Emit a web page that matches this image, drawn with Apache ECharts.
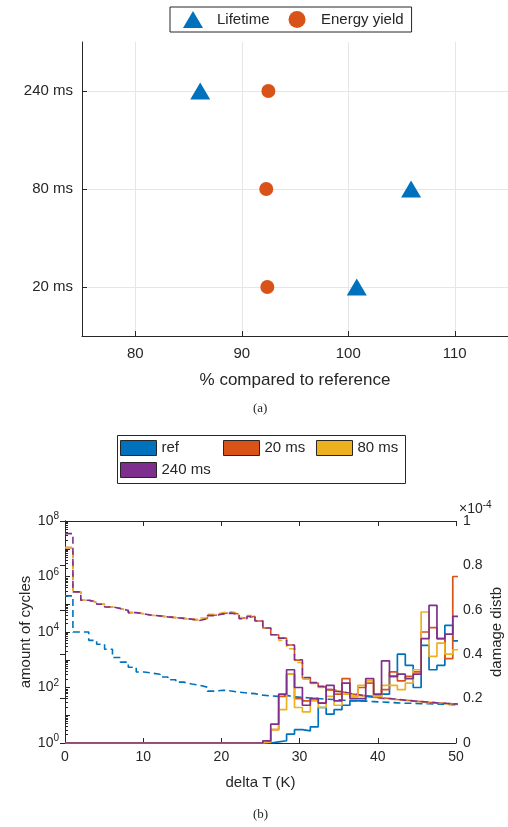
<!DOCTYPE html>
<html>
<head>
<meta charset="utf-8">
<script src="https://cdn.jsdelivr.net/npm/echarts@6/dist/echarts.min.js"></script>
<style>
  html, body { margin: 0; padding: 0; background: #fff; }
  #chart { width: 508px; height: 827px; }
</style>
</head>
<body>
<div id="chart"></div>
<script>
// (a) relative change per sampling interval
const delays = ['20 ms', '80 ms', '240 ms'];
const lifetime = [100.8, 105.9, 86.1];
const energyYield = [92.4, 92.3, 92.5];
const pctTicks = [80, 90, 100, 110];

// (b) histograms, 50 bins from 0 K
const binWidth = 1.012;
const names = ['ref', '20 ms', '80 ms', '240 ms'];
const colors = ['#0072BD', '#D95319', '#EDB120', '#7E2F8E'];

// amount of cycles (left, log)
const cyclesRef = [2e5, 1e4, 1e4, 5e3, 3.6e3, 2.4e3, 1.2e3, 820, 540, 360,
  330, 300, 240, 190, 156, 133, 120, 103, 74, 80,
  75, 68, 63, 60, 53, 50, 48, 52, 46, 44,
  42, 40, 38, 37, 35, 34, 33, 32, 31, 30,
  29, 28, 27, 27, 26, 26, 25, 25, 24, 24];
const cycles20 = [1.1e7, 2.8e5, 1.4e5, 1.2e5, 1e5, 8e4, 7e4, 6e4, 5e4, 4.5e4,
  4e4, 3.8e4, 3.5e4, 3.3e4, 3.1e4, 2.9e4, 2.7e4, 3.1e4, 4e4, 4.6e4,
  5e4, 4.4e4, 3.2e4, 3.7e4, 2.5e4, 1.4e4, 8e3, 6e3, 3.4e3, 970,
  220, 145, 105, 82, 70, 60, 55, 50, 45, 42,
  40, 37, 35, 33, 31, 29, 28, 27, 26, 25];
const cycles80 = [1.1e7, 2.8e5, 1.4e5, 1.2e5, 1e5, 8e4, 7e4, 6e4, 5e4, 4.5e4,
  4e4, 3.8e4, 3.5e4, 3.3e4, 3.1e4, 2.9e4, 2.7e4, 3.2e4, 4.3e4, 5e4,
  5.3e4, 4.7e4, 3.3e4, 3.9e4, 2.6e4, 1.4e4, 8e3, 5e3, 2.5e3, 800,
  200, 140, 100, 80, 68, 58, 52, 48, 44, 40,
  38, 36, 34, 32, 30, 28, 27, 26, 25, 24];
const cycles240 = [3.5e7, 2.8e5, 1.4e5, 1.2e5, 1e5, 8e4, 7e4, 6e4, 5e4, 4.5e4,
  4e4, 3.8e4, 3.5e4, 3.3e4, 3.1e4, 2.9e4, 2.6e4, 3e4, 3.9e4, 4.5e4,
  4.8e4, 4.3e4, 3e4, 3.6e4, 2.5e4, 1.4e4, 8e3, 6e3, 3.4e3, 1e3,
  230, 150, 110, 85, 72, 62, 56, 50, 46, 42,
  40, 38, 35, 33, 31, 30, 28, 27, 26, 25];

// damage distribution (right, x 1e-4)
const damageRef = [0, 0, 0, 0, 0, 0, 0, 0, 0, 0,
  0, 0, 0, 0, 0, 0, 0, 0, 0, 0,
  0, 0, 0, 0, 0, 0, 0.005, 0.01, 0.04, 0.06,
  0.055, 0.073, 0.16, 0.13, 0.15, 0.17, 0.19, 0.19, 0.21, 0.21,
  0.22, 0.3, 0.4, 0.35, 0.25, 0.44, 0.33, 0.35, 0.53, 0.46];
const damage20 = [0, 0, 0, 0, 0, 0, 0, 0, 0, 0,
  0, 0, 0, 0, 0, 0, 0, 0, 0, 0,
  0, 0, 0, 0, 0, 0.005, 0.06, 0.21, 0.31, 0.2,
  0.19, 0.2, 0.18, 0.24, 0.22, 0.29, 0.21, 0.25, 0.27, 0.21,
  0.24, 0.32, 0.28, 0.3, 0.32, 0.5, 0.52, 0.47, 0.38, 0.75];
const damage80 = [0, 0, 0, 0, 0, 0, 0, 0, 0, 0,
  0, 0, 0, 0, 0, 0, 0, 0, 0, 0,
  0, 0, 0, 0, 0, 0.005, 0.06, 0.15, 0.31, 0.16,
  0.14, 0.19, 0.16, 0.21, 0.17, 0.22, 0.21, 0.26, 0.28, 0.21,
  0.26, 0.26, 0.24, 0.27, 0.33, 0.59, 0.39, 0.45, 0.4, 0.42];
const damage240 = [0, 0, 0, 0, 0, 0, 0, 0, 0, 0,
  0, 0, 0, 0, 0, 0, 0, 0, 0, 0,
  0, 0, 0, 0, 0, 0.01, 0.085, 0.22, 0.33, 0.25,
  0.17, 0.2, 0.18, 0.26, 0.19, 0.27, 0.2, 0.2, 0.29, 0.22,
  0.37, 0.3, 0.31, 0.29, 0.31, 0.47, 0.62, 0.47, 0.49, 0.57];

// decade ticks and 2..9 minor ticks of the log axis
const decades = [1, 10, 100, 1e3, 1e4, 1e5, 1e6, 1e7, 1e8];
const minorLogTicks = [];
decades.slice(0, -1).forEach(d => {
    [2, 3, 4, 5, 6, 7, 8, 9].forEach(m => minorLogTicks.push(d * m));
});

const cyclesAll = [cyclesRef, cycles20, cycles80, cycles240];
const damageAll = [damageRef, damage20, damage80, damage240];

const FONT = 'Liberation Sans, Arial, sans-serif';
const INK = '#262626';

// stairs: one point per bin edge, last value repeated at the closing edge
function stairs(values) {
    const pts = values.map((v, i) => [i * binWidth, v]);
    pts.push([values.length * binWidth, values[values.length - 1]]);
    return pts;
}

const axisLine = {show: true, lineStyle: {color: INK, width: 1}};
const tickIn = {show: true, inside: true, length: 5, lineStyle: {color: INK}};
const label = {color: INK, fontFamily: FONT, fontSize: 15};

const series = [
    {
        name: 'Lifetime', type: 'scatter', xAxisIndex: 0, yAxisIndex: 0,
        symbol: 'triangle', symbolSize: [20, 17],
        itemStyle: {color: '#0072BD', opacity: 1},
        data: lifetime.map((v, i) => [v, i + 1])
    },
    {
        name: 'Energy yield', type: 'scatter', xAxisIndex: 0, yAxisIndex: 0,
        symbol: 'circle', symbolSize: 14,
        itemStyle: {color: '#D95319', opacity: 1},
        data: energyYield.map((v, i) => [v, i + 1])
    }
];
names.forEach((name, k) => {
    series.push({
        name, type: 'line', xAxisIndex: 1, yAxisIndex: 2, step: 'end',
        showSymbol: false, z: 3, animation: false,
        itemStyle: {color: colors[k]},
        lineStyle: {color: colors[k], width: 1.7},
        data: stairs(damageAll[k])
    });
});
names.forEach((name, k) => {
    series.push({
        name, type: 'line', xAxisIndex: 1, yAxisIndex: 1, step: 'end',
        showSymbol: false, z: 2, animation: false,
        itemStyle: {color: colors[k]},
        lineStyle: {color: colors[k], width: 1.6, type: [7, 4]},
        data: stairs(cyclesAll[k])
    });
});

const legendPos = [[120, 440], [223, 440], [316, 440], [120, 462]];
const bottomLegends = names.map((name, k) => ({
    data: [name], left: legendPos[k][0], top: legendPos[k][1], padding: 0,
    icon: 'rect', itemWidth: 36, itemHeight: 15,
    itemStyle: {borderColor: INK, borderWidth: 1, borderType: 'solid'},
    textStyle: {color: INK, fontFamily: FONT, fontSize: 15}
}));

const option = {
    backgroundColor: '#fff',
    animation: false,
    grid: [
        {left: 82, top: 42, width: 426, height: 294, outerBoundsMode: 'none'},
        {left: 65, top: 521, width: 391, height: 222, outerBoundsMode: 'none'}
    ],
    legend: [
        {
            data: [{name: 'Lifetime', icon: 'triangle'}, {name: 'Energy yield', icon: 'circle'}],
            left: 170, top: 7, padding: [4, 8, 4, 13], itemGap: 19,
            itemWidth: 20, itemHeight: 17,
            itemStyle: {opacity: 1},
            borderColor: INK, borderWidth: 1,
            textStyle: {color: INK, fontFamily: FONT, fontSize: 15, padding: [0, 0, 0, 9]}
        },
        ...bottomLegends
    ],
    xAxis: [
        {
            gridIndex: 0, type: 'value', min: 75, max: 115,
            name: '% compared to reference', nameLocation: 'middle', nameGap: 36,
            nameTextStyle: {color: INK, fontFamily: FONT, fontSize: 17},
            axisLine, axisTick: {...tickIn, customValues: pctTicks},
            axisLabel: {...label, margin: 10, customValues: pctTicks},
            splitLine: {show: true, lineStyle: {color: '#e6e6e6'}}
        },
        {
            gridIndex: 1, type: 'value', min: 0, max: 50, interval: 10, position: 'bottom',
            name: 'delta T (K)', nameLocation: 'middle', nameGap: 32,
            nameTextStyle: {color: INK, fontFamily: FONT, fontSize: 15},
            axisLine, axisTick: tickIn,
            axisLabel: {...label, fontSize: 14, margin: 7},
            splitLine: {show: false}
        },
        {
            gridIndex: 1, type: 'value', min: 0, max: 50, interval: 10, position: 'top',
            axisLine, axisTick: tickIn, axisLabel: {show: false}, splitLine: {show: false}
        }
    ],
    yAxis: [
        {
            gridIndex: 0, type: 'value', min: 0.5, max: 3.5,
            axisLine, axisTick: {...tickIn, customValues: [1, 2, 3]},
            axisLabel: {...label, margin: 9, customValues: [1, 2, 3],
                formatter: v => delays[Math.round(v) - 1]},
            splitLine: {show: true, lineStyle: {color: '#e6e6e6'}}
        },
        {
            gridIndex: 1, type: 'log', logBase: 10, min: 1, max: 1e8, position: 'left',
            name: 'amount of cycles', nameLocation: 'middle', nameGap: 32, nameRotate: 90,
            nameMoveOverlap: false,
            nameTextStyle: {color: INK, fontFamily: FONT, fontSize: 15},
            axisLine, axisTick: {...tickIn, customValues: decades},
            axisLabel: {
                color: INK, fontFamily: FONT, margin: 6,
                customValues: [1, 100, 1e4, 1e6, 1e8],
                formatter: v => '{b|10}{e|' + Math.round(Math.log10(v)) + '}',
                rich: {
                    b: {fontSize: 14, fontFamily: FONT, color: INK},
                    e: {fontSize: 10, fontFamily: FONT, color: INK, padding: [0, 0, 9, 0]}
                }
            },
            splitLine: {show: false}
        },
        {
            gridIndex: 1, type: 'value', min: 0, max: 1, interval: 0.2, position: 'right',
            name: 'damage distb', nameLocation: 'middle', nameGap: 33, nameRotate: 90,
            nameMoveOverlap: false,
            nameTextStyle: {color: INK, fontFamily: FONT, fontSize: 15, verticalAlign: 'top'},
            axisLine, axisTick: tickIn,
            axisLabel: {...label, fontSize: 14, margin: 7},
            splitLine: {show: false}
        },
        {
            // minor ticks of the log axis only
            gridIndex: 1, type: 'log', logBase: 10, min: 1, max: 1e8, position: 'left',
            axisLine: {show: false},
            axisTick: {show: true, inside: true, length: 3, lineStyle: {color: INK},
                customValues: minorLogTicks},
            axisLabel: {show: false}, splitLine: {show: false}
        }
    ],
    graphic: [
        {
            type: 'rect', left: 117, top: 435, silent: true, z: -1,
            shape: {width: 288, height: 48},
            style: {fill: '#fff', stroke: INK, lineWidth: 1}
        },
        {
            type: 'text', left: 459, top: 500,
            style: {
                text: '{x|×10}{e|-4}',
                rich: {
                    x: {fontSize: 14, fontFamily: FONT, fill: INK},
                    e: {fontSize: 10, fontFamily: FONT, fill: INK, padding: [0, 0, 8, 0]}
                }
            }
        },
        {
            type: 'text', left: 253, top: 402,
            style: {text: '(a)', font: '13px "Liberation Serif", serif', fill: INK}
        },
        {
            type: 'text', left: 253, top: 808,
            style: {text: '(b)', font: '13px "Liberation Serif", serif', fill: INK}
        }
    ],
    series
};

const chart = echarts.init(document.getElementById('chart'), null, {renderer: 'canvas'});
chart.setOption(option);
</script>
</body>
</html>
